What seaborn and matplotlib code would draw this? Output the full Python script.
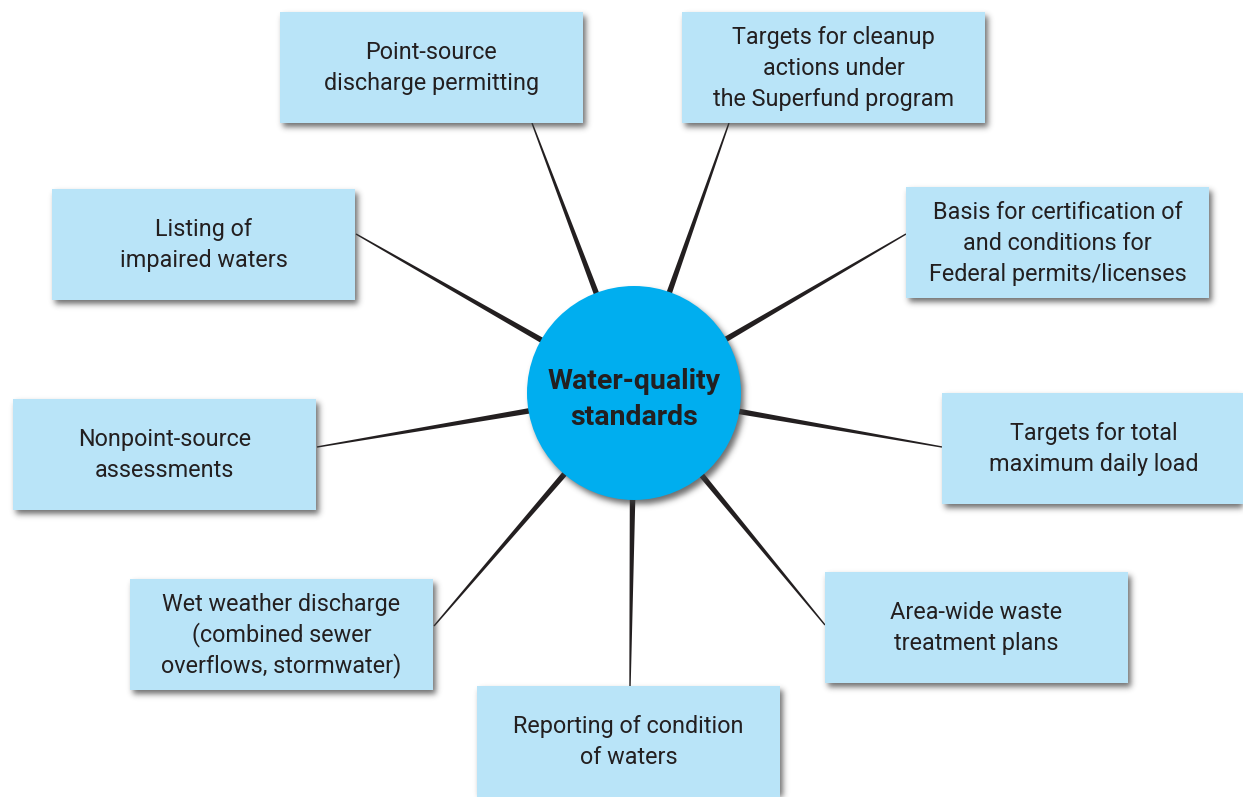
"""
plot.py — Uses of water-quality standards (hub-and-spoke diagram).

Run:  python plot.py   ->  out.png
"""

import numpy as np
import matplotlib.pyplot as plt
import seaborn as sns
from matplotlib.patches import Rectangle, Circle, Polygon

# ── Content ───────────────────────────────────────────────────────────────────
CENTER_LABEL = "Water-quality\nstandards"

USES = [
    "Point-source\ndischarge permitting",
    "Targets for cleanup\nactions under\nthe Superfund program",
    "Basis for certification of\nand conditions for\nFederal permits/licenses",
    "Targets for total\nmaximum daily load",
    "Area-wide waste\ntreatment plans",
    "Reporting of condition\nof waters",
    "Wet weather discharge\n(combined sewer\noverflows, stormwater)",
    "Nonpoint-source\nassessments",
    "Listing of\nimpaired waters",
]

# ── Layout (pixel space, y down) ──────────────────────────────────────────────
W, H = 1243, 797
HUB_XY = (634, 393)
HUB_R = 107
BOX_W, BOX_H = 303, 111
LINE_STEP = 31        # px between baselines in the boxes
TITLE_STEP = 36       # px between baselines in the hub

# top-left corner of each box, same order as USES
BOX_LT = [
    (280, 12), (682, 12), (906, 187), (942, 393), (825, 572),
    (477, 686), (130, 579), (13, 399), (52, 189),
]
# point where each spoke meets its box
SPOKE_END = [
    (532, 123), (729, 123), (906, 234), (942, 447), (825, 625),
    (630, 686), (434, 626), (317, 447), (356, 234),
]

BOX_COLOR = "#B9E4F8"
HUB_COLOR = "#00AEEF"
INK = "#231F20"

sns.set_theme(style="white")
plt.rcParams["font.family"] = ["Roboto", "DejaVu Sans"]

fig = plt.figure(figsize=(W / 100, H / 100), dpi=100)
ax = fig.add_axes([0, 0, 1, 1])
ax.set_xlim(0, W)
ax.set_ylim(H, 0)
ax.axis("off")


def stacked_text(x, y_mid, label, step, cap, **kw):
    """Write a multi-line label with fixed baseline spacing, centred on y_mid."""
    lines = label.split("\n")
    for i, line in enumerate(lines):
        yb = y_mid + (i - (len(lines) - 1) / 2) * step + cap / 2
        ax.text(x, yb, line, ha="center", va="baseline", color=INK, zorder=4, **kw)


# ── Spokes: taper from thin at the box to thick at the hub ────────────────────
cx, cy = HUB_XY
for (x0, y0) in SPOKE_END:
    d = np.array([cx - x0, cy - y0], dtype=float)
    L = np.hypot(*d)
    u = d / L
    n = np.array([-u[1], u[0]])
    w0, w1 = 1.4, 5.5
    wc = w0 + (w1 - w0) * L / (L - HUB_R)
    p0 = np.array([x0, y0], dtype=float)
    pc = np.array([cx, cy], dtype=float)
    pts = [p0 + n * w0 / 2, pc + n * wc / 2, pc - n * wc / 2, p0 - n * w0 / 2]
    ax.add_patch(Polygon(pts, closed=True, facecolor=INK, edgecolor="none", zorder=1))

# ── Soft drop shadows ─────────────────────────────────────────────────────────
mask = np.zeros((H, W))
dx, dy = 3, 4
for (lx, ty) in BOX_LT:
    mask[max(ty + dy, 0):min(ty + BOX_H + dy, H), max(lx + dx, 0):min(lx + BOX_W + dx, W)] = 1
yy, xx = np.mgrid[0:H, 0:W]
mask[(xx - cx - dx) ** 2 + (yy - cy - dy) ** 2 < HUB_R ** 2] = 1

sigma = 3.0
k = np.arange(-10, 11)
kern = np.exp(-k ** 2 / (2 * sigma ** 2))
kern /= kern.sum()
blur = np.apply_along_axis(lambda r: np.convolve(r, kern, mode="same"), 1, mask)
blur = np.apply_along_axis(lambda c: np.convolve(c, kern, mode="same"), 0, blur)
shadow = np.zeros((H, W, 4))
shadow[..., :3] = 0.25
shadow[..., 3] = blur * 0.75
ax.imshow(shadow, extent=(0, W, H, 0), origin="upper", zorder=2, interpolation="bilinear")

# ── Boxes ─────────────────────────────────────────────────────────────────────
for label, (lx, ty) in zip(USES, BOX_LT):
    ax.add_patch(Rectangle((lx, ty), BOX_W, BOX_H, facecolor=BOX_COLOR,
                           edgecolor="none", zorder=3))
    stacked_text(lx + BOX_W / 2, ty + BOX_H / 2 - 1, label, LINE_STEP, 16,
                 fontsize=16.8)

# ── Hub ───────────────────────────────────────────────────────────────────────
ax.add_patch(Circle(HUB_XY, HUB_R, facecolor=HUB_COLOR, edgecolor="none", zorder=3))
stacked_text(cx, cy + 3, CENTER_LABEL, TITLE_STEP, 22,
             fontsize=20.5, fontweight="bold")

fig.savefig("out.png", dpi=100)
